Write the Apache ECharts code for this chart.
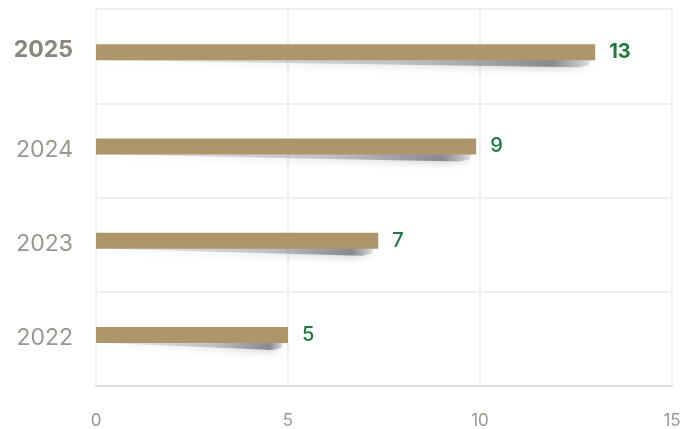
<!DOCTYPE html>
<html><head><meta charset="utf-8">
<script src="https://cdn.jsdelivr.net/npm/echarts@6/dist/echarts.min.js"></script>
<style>html,body{margin:0;padding:0;background:#fff}#c{width:696px;height:429px}</style>
</head><body><div id="c"></div>
<script>
const categories = ['2022', '2023', '2024', '2025'];
const barLengths = [5, 7.35, 9.9, 13];
const valueLabels = ['5', '7', '9', '13'];
const xTicks = [0, 5, 10, 15];

const BAR_W = 16, SHIFT = 4;
const chart = echarts.init(document.getElementById('c'));
chart.setOption({
  animation: false,
  backgroundColor: '#fff',
  grid: { left: 96, right: 24, top: 9, bottom: 43, show: true, borderColor: '#efefef', borderWidth: 2 },
  xAxis: {
    type: 'value', min: xTicks[0], max: xTicks[xTicks.length - 1], interval: 5,
    axisLine: { show: true, lineStyle: { color: '#dcdcdc', width: 2 } },
    axisTick: { show: false },
    splitLine: { show: true, lineStyle: { color: '#efefef', width: 2 } },
    axisLabel: { color: '#9a978c', fontSize: 17, fontFamily: 'Inter', margin: 26 }
  },
  yAxis: {
    type: 'category', data: categories,
    axisLine: { show: false }, axisTick: { show: false },
    splitLine: { show: true, lineStyle: { color: '#efefef', width: 2 } },
    axisLabel: {
      margin: 23, fontFamily: 'Inter', fontSize: 23,
      formatter: (v) => v === '2025' ? '{b|' + v + '}' : '{n|' + v + '}',
      rich: {
        b: { color: '#8a877c', fontWeight: 'bold', fontSize: 23, fontFamily: 'Inter', padding: [0, 0, 12, 0] },
        n: { color: '#9a978c', fontSize: 23, fontFamily: 'Inter', padding: [0, 0, 1, 0] }
      }
    }
  },
  series: [
    {
      type: 'custom', z: 1, silent: true,
      data: barLengths.map((v, i) => [v, i]),
      renderItem: (params, api) => {
        const s = api.coord([0, api.value(1)]);
        const e = api.coord([api.value(0), api.value(1)]);
        const yb = s[1] - SHIFT + BAR_W / 2 - 1;
        const len = e[0] - s[0];
        return {
          type: 'polygon',
          shape: { points: [[s[0] + 2, yb], [e[0] - 4, yb], [e[0] - 7, yb + 6], [e[0] - 16, yb + 8], [s[0] + len * 0.55, yb + 5], [s[0] + 8, yb + 1]] },
          style: {
            fill: new echarts.graphic.LinearGradient(0, 0, 1, 0, [
              { offset: 0, color: 'rgba(120,120,130,0.12)' },
              { offset: 0.6, color: 'rgba(110,110,120,0.35)' },
              { offset: 0.92, color: 'rgba(80,80,90,0.6)' },
              { offset: 1, color: 'rgba(90,90,100,0.15)' }
            ]),
            shadowBlur: 9, shadowColor: 'rgba(80,80,90,0.55)', shadowOffsetY: 1
          }
        };
      }
    },
    {
      type: 'bar', barWidth: BAR_W, barGap: '0%', z: 3,
      data: barLengths.map((v, i) => ({
        value: v,
        label: { fontWeight: i === 3 ? 'bold' : 500 }
      })),
      itemStyle: { color: '#ad966a' },
      label: {
        show: true, position: 'right', distance: 14,
        color: '#1f7a3f', fontSize: 20, fontFamily: 'Inter',
        formatter: (p) => valueLabels[p.dataIndex]
      }
    },
    {
      type: 'bar', barWidth: SHIFT * 2, barGap: '0%', silent: true,
      data: categories.map(() => null)
    }
  ]
});
</script></body></html>
